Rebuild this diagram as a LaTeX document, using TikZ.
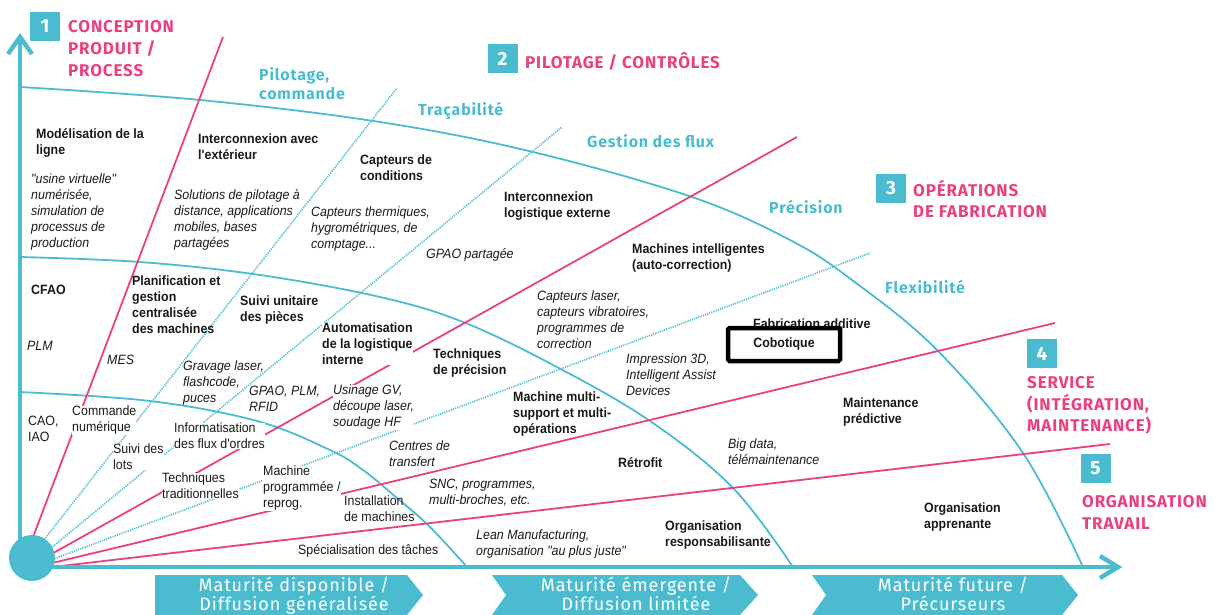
\documentclass[tikz,border=0pt]{standalone}
\usepackage{fontspec}
\setmainfont{Liberation Sans}[FakeStretch=0.92, Ligatures=TeXOff]
\newfontfamily\headfont{Fira Sans}[LetterSpace=5]
\definecolor{tealc}{RGB}{75,188,207}
\definecolor{pinkc}{RGB}{232,64,128}
\definecolor{txtc}{RGB}{25,25,25}
\newcommand{\sq}{\char34\relax}
\begin{document}
\begin{tikzpicture}[x=1pt,y=-1pt,
  arcline/.style={draw=tealc, line width=1.8pt},
  pinkline/.style={draw=pinkc, line width=1.8pt},
  dotline/.style={draw=tealc, line width=1.8pt, dash pattern=on 1.1pt off 1.2pt},
  axisline/.style={draw=tealc, line width=4.5pt},
  tipline/.style={draw=tealc, line width=4.5pt, line join=miter},
  base/.style={anchor=north west, align=left, inner sep=0pt, text=txtc},
  bt/.style={base, font=\fontsize{13.5}{16}\selectfont\bfseries},
  it/.style={base, font=\fontsize{13.5}{16}\selectfont\itshape},
  rt/.style={base, font=\fontsize{13.5}{16}\selectfont},
  cover/.style={fill=white},
  numbox/.style={fill=tealc, text=white, inner sep=0pt, minimum width=30pt, minimum height=29pt, font=\headfont\bfseries\fontsize{19}{19}\selectfont},
  headtxt/.style={anchor=base west, inner sep=0pt, text=pinkc, font=\headfont\bfseries\fontsize{17}{17}\selectfont},
  tlabel/.style={anchor=base west, inner sep=0pt, text=tealc, font=\headfont\bfseries\fontsize{16}{16}\selectfont},
  chev/.style={fill=tealc},
  chevtxt/.style={anchor=north, align=center, inner sep=0pt, text=white, font=\headfont\fontsize{18}{18.5}\selectfont}
]
\useasboundingbox (0,0) rectangle (1215,614);
\clip (0,0) rectangle (1215,614);

% ---- arcs
\draw[arcline] plot[smooth, tension=0.6] coordinates {(20,87) (200,100) (380,122) (533,152) (692,197) (790,240) (852,280) (937,350) (1023,453) (1083,567)};
\draw[arcline] plot[smooth, tension=0.6] coordinates {(20,257) (140,262) (260,275) (380,297) (463,322) (555,366) (650,421) (733,488) (793,567)};
\draw[arcline] plot[smooth, tension=0.6] coordinates {(20,392) (150,401) (257,421) (330,450) (363,470) (397,498) (430,527) (467,567)};

% ---- rays
\coordinate (s1) at (30,545);  \coordinate (e1) at (223,37);
\coordinate (s2) at (40,545);  \coordinate (e2) at (397,88);
\coordinate (s3) at (51,548);  \coordinate (e3) at (562,127);
\coordinate (s4) at (48,556);  \coordinate (e4) at (797,137);
\coordinate (s5) at (48,561);  \coordinate (e5) at (870,253);
\coordinate (s6) at (48,564);  \coordinate (e6) at (1055,323);
\coordinate (s7) at (48,567.5);\coordinate (e7) at (1110,444);
\draw[pinkline] (s1) -- (e1);
\draw[dotline] (s2) -- (e2);
\draw[dotline] (s3) -- (e3);
\draw[pinkline] (s4) -- (e4);
\draw[dotline] (s5) -- (e5);
\draw[pinkline] (s6) -- (e6);
\draw[pinkline] (s7) -- (e7);

% ---- axes
\coordinate (o) at (20,567);
\coordinate (ytop) at (20,37);
\coordinate (xend) at (1116,567);
\draw[axisline] (o) -- (ytop);
\draw[axisline] (o) -- (xend);
\draw[tipline] (8,54) -- (ytop) -- (32,54);
\draw[tipline] (1100,556) -- (1118,567) -- (1100,578);
\node[circle, fill=tealc, minimum size=46pt, inner sep=0pt] (orig) at (32,558) {};

% ---- headings
\node[numbox] (n1) at (45,26) {1};
\node[headtxt] (t1a) at (68,32) {CONCEPTION};
\node[headtxt] (t1b) at (68,54) {PRODUIT /};
\node[headtxt] (t1c) at (68,76) {PROCESS};
\node[numbox] (n2) at (502.5,58.5) {2};
\node[headtxt] (t2) at (525,68) {PILOTAGE / CONTRÔLES};
\node[numbox] (n3) at (891,188.5) {3};
\node[headtxt] (t3a) at (913,196) {OPÉRATIONS};
\node[headtxt] (t3b) at (913,217) {DE FABRICATION};
\node[numbox] (n4) at (1042,353.5) {4};
\node[headtxt] (t4a) at (1027,388) {SERVICE};
\node[headtxt] (t4b) at (1027,410) {(INTÉGRATION,};
\node[headtxt] (t4c) at (1027,431) {MAINTENANCE)};
\node[numbox] (n5) at (1095.5,468.5) {5};
\node[headtxt] (t5a) at (1082,507) {ORGANISATION};
\node[headtxt] (t5b) at (1082,529) {TRAVAIL};

% ---- teal labels
\node[tlabel] (lp1) at (259,80) {Pilotage,};
\node[tlabel] (lp2) at (259,99) {commande};
\node[tlabel] (ltr) at (418,115) {Traçabilité};
\node[tlabel] (lgf) at (587,147) {Gestion des flux};
\node[tlabel] (lpr) at (769,213) {Précision};
\node[tlabel] (lfl) at (885,293) {Flexibilité};

% ---- bold texts
\node[bt] (b1) at (36,128) {Modélisation de la\\ligne};
\node[bt] (b2) at (198,134) {Interconnexion avec\\l'extérieur};
\node[bt] (b3) at (360,155) {Capteurs de\\conditions};
\node[bt] (b4) at (504,192) {Interconnexion\\logistique externe};
\node[bt] (b5) at (632,244) {Machines intelligentes\\(auto-correction)};
\node[bt] (b6) at (31,285) {CFAO};
\node[bt] (b7) at (132,276) {Planification et\\gestion\\centralisée\\des machines};
\node[bt] (b8) at (240,296) {Suivi unitaire\\des pièces};
\node[bt, cover] (b9) at (322,323) {Automatisation\\de la logistique\\interne};
\node[bt] (b10) at (433,349) {Techniques\\de précision};
\node[bt] (b11) at (513,392) {Machine multi-\\support et multi-\\opérations};
\node[bt] (b12) at (753,319) {Fabrication additive};
\node[draw=black, line width=4.5pt, rounded corners=1.5pt, fill=white, minimum width=112pt, minimum height=33pt, inner sep=0pt, text=txtc, font=\fontsize{13.5}{16}\selectfont\bfseries] (cobot) at (784,344.5) {Cobotique};
\node[bt] (b13) at (618,457) {Rétrofit};
\node[bt] (b14) at (843,398) {Maintenance\\prédictive};
\node[bt] (b15) at (665,521) {Organisation\\responsabilisante};
\node[bt] (b16) at (924,503) {Organisation\\apprenante};

% ---- italic texts
\node[it] (i1) at (31,174) {\sq usine virtuelle\sq\\numérisée,\\simulation de\\processus de\\production};
\node[it] (i2) at (174,189) {Solutions de pilotage à\\distance, applications\\mobiles, bases\\partagées};
\node[it] (i3) at (311,207) {Capteurs thermiques,\\hygrométriques, de\\comptage...};
\node[it] (i4) at (426,248) {GPAO partagée};
\node[it] (i5) at (537,291) {Capteurs laser,\\capteurs vibratoires,\\programmes de\\correction};
\node[it] (i6) at (27,341) {PLM};
\node[it] (i7) at (107,355) {MES};
\node[it] (i8) at (183,361) {Gravage laser,\\flashcode,\\puces};
\node[it] (i9) at (249,386) {GPAO, PLM,\\RFID};
\node[it, cover] (i10) at (333,385) {Usinage GV,\\découpe laser,\\soudage HF};
\node[it] (i11) at (626,354) {Impression 3D,\\Intelligent Assist\\Devices};
\node[it] (i12) at (389,441) {Centres de\\transfert};
\node[it] (i13) at (429,479) {SNC, programmes,\\multi-broches, etc.};
\node[it] (i14) at (728,439) {Big data,\\télémaintenance};
\node[it] (i15) at (476,530) {Lean Manufacturing,\\organisation \sq au plus juste\sq};

% ---- regular texts
\node[rt] (r1) at (28,416) {CAO,\\IAO};
\node[rt, cover] (r2) at (72,406) {Commande\\numérique};
\node[rt, cover] (r3) at (174,423) {Informatisation\\des flux d'ordres};
\node[rt, cover] (r4) at (113,444) {Suivi des\\lots};
\node[rt, cover] (r5) at (162,473) {Techniques\\traditionnelles};
\node[rt, cover] (r6) at (263,466) {Machine\\programmée /\\reprog.};
\node[rt] (r7) at (344,496) {Installation\\de machines};
\node[rt] (r8) at (298,544) {Spécialisation des tâches};

% ---- maturity chevrons
\fill[chev] (155,575) -- (407,575) -- (423,595) -- (407,615) -- (155,615) -- cycle;
\fill[chev] (492,575) -- (740,575) -- (758,595) -- (740,615) -- (492,615) -- (506,595) -- cycle;
\fill[chev] (812,575) -- (1062,575) -- (1078,595) -- (1062,615) -- (812,615) -- (826,595) -- cycle;
\node[chevtxt] (m1) at (294,577) {Maturité disponible /\\Diffusion généralisée};
\node[chevtxt] (m2) at (636,577) {Maturité émergente /\\Diffusion limitée};
\node[chevtxt] (m3) at (953,577) {Maturité future /\\Précurseurs};
\end{tikzpicture}
\end{document}
